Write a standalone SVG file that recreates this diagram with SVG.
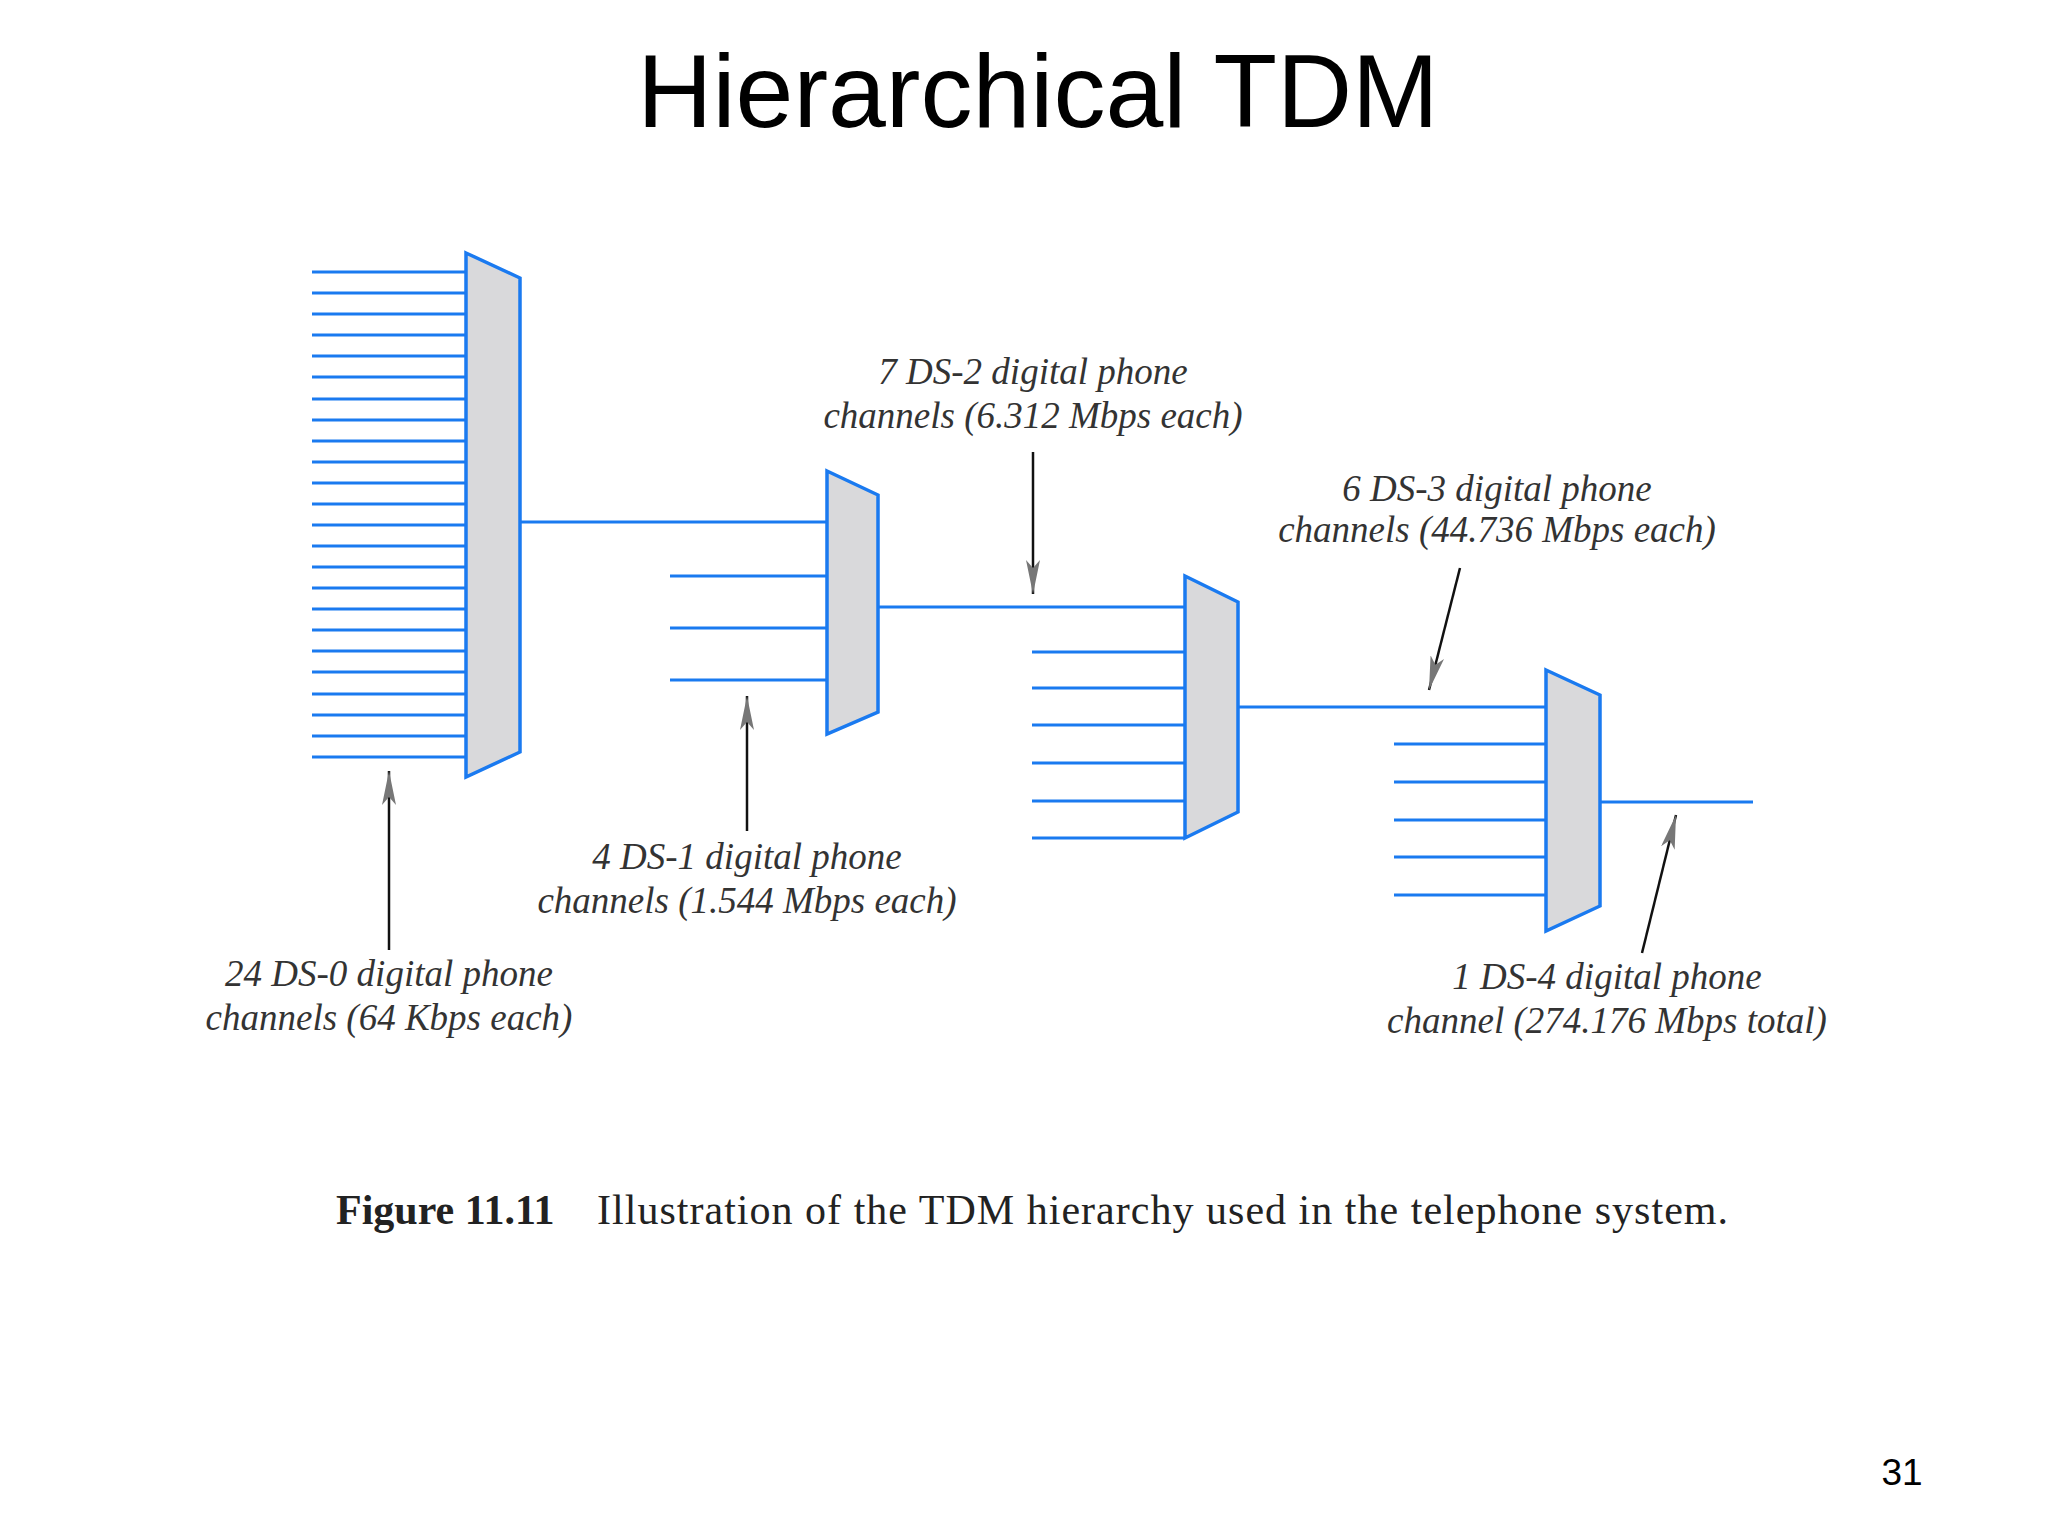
<svg xmlns="http://www.w3.org/2000/svg" width="2048" height="1536" viewBox="0 0 2048 1536">
<style>
.w{stroke:#1a7af0;stroke-width:3;fill:none}
.m{stroke:#1a7af0;stroke-width:3.5;fill:#d9d9db}
.a{stroke:#111;stroke-width:2.5;fill:none}
.lb{font-family:"Liberation Serif",serif;font-style:italic;font-size:37px;fill:#333;text-anchor:middle}
</style>
<defs>
<marker id="ahb" viewBox="0 0 34 14" refX="34" refY="7" markerWidth="34" markerHeight="14" markerUnits="userSpaceOnUse" orient="auto"><path d="M0,0 L34,7 L0,14 L8,7 z" fill="#777"/></marker>
</defs>
<rect width="2048" height="1536" fill="#fff"/>
<text x="1038" y="127" font-family="Liberation Sans,Arial,sans-serif" font-size="104" text-anchor="middle">Hierarchical TDM</text>
<g id="connectors">
<path class="w" d="M312,272H466M312,293H466M312,314H466M312,335H466M312,356H466M312,377H466M312,399H466M312,420H466M312,441H466M312,462H466M312,483H466M312,504H466M312,525H466M312,546H466M312,567H466M312,588H466M312,609H466M312,630H466M312,651H466M312,672H466M312,694H466M312,715H466M312,736H466M312,757H466"/>
<path class="w" d="M520,522H827M670,576H827M670,628H827M670,680H827"/>
<path class="w" d="M878,607H1185M1032,652H1185M1032,688H1185M1032,725H1185M1032,763H1185M1032,801H1185M1032,838H1185"/>
<path class="w" d="M1238,707H1546M1394,744H1546M1394,782H1546M1394,820H1546M1394,857H1546M1394,895H1546"/>
<path class="w" d="M1600,802H1753"/>
<line class="a" x1="389" y1="950" x2="389" y2="771" marker-end="url(#ahb)"/>
<line class="a" x1="747" y1="831" x2="747" y2="696" marker-end="url(#ahb)"/>
<line class="a" x1="1033" y1="452" x2="1033" y2="594" marker-end="url(#ahb)"/>
<line class="a" x1="1460" y1="568" x2="1429" y2="690" stroke="#666" marker-end="url(#ahb)"/>
<line class="a" x1="1642" y1="953" x2="1676" y2="815" stroke="#666" marker-end="url(#ahb)"/>
</g>
<g id="mux1"><polygon class="m" points="466,253 520,278 520,752 466,777"/></g>
<g id="mux2"><polygon class="m" points="827,471 878,495 878,712 827,734"/></g>
<g id="mux3"><polygon class="m" points="1185,576 1238,602 1238,812 1185,838"/></g>
<g id="mux4"><polygon class="m" points="1546,670 1600,695 1600,906 1546,931"/></g>
<g id="label-ds0"><text class="lb" x="389" y="986">24 DS-0 digital phone</text><text class="lb" x="389" y="1030">channels (64 Kbps each)</text></g>
<g id="label-ds1"><text class="lb" x="747" y="869">4 DS-1 digital phone</text><text class="lb" x="747" y="913">channels (1.544 Mbps each)</text></g>
<g id="label-ds2"><text class="lb" x="1033" y="384">7 DS-2 digital phone</text><text class="lb" x="1033" y="428">channels (6.312 Mbps each)</text></g>
<g id="label-ds3"><text class="lb" x="1497" y="501">6 DS-3 digital phone</text><text class="lb" x="1497" y="542">channels (44.736 Mbps each)</text></g>
<g id="label-ds4"><text class="lb" x="1607" y="989">1 DS-4 digital phone</text><text class="lb" x="1607" y="1033">channel (274.176 Mbps total)</text></g>
<text x="336" y="1224" font-family="Liberation Serif,serif" font-size="42" fill="#222"><tspan font-weight="bold">Figure 11.11</tspan></text>
<text x="597" y="1224" font-family="Liberation Serif,serif" font-size="42" fill="#222" textLength="1131" lengthAdjust="spacing">Illustration of the TDM hierarchy used in the telephone system.</text>
<text x="1902" y="1485" font-family="Liberation Sans,Arial,sans-serif" font-size="37" text-anchor="middle">31</text>
</svg>
